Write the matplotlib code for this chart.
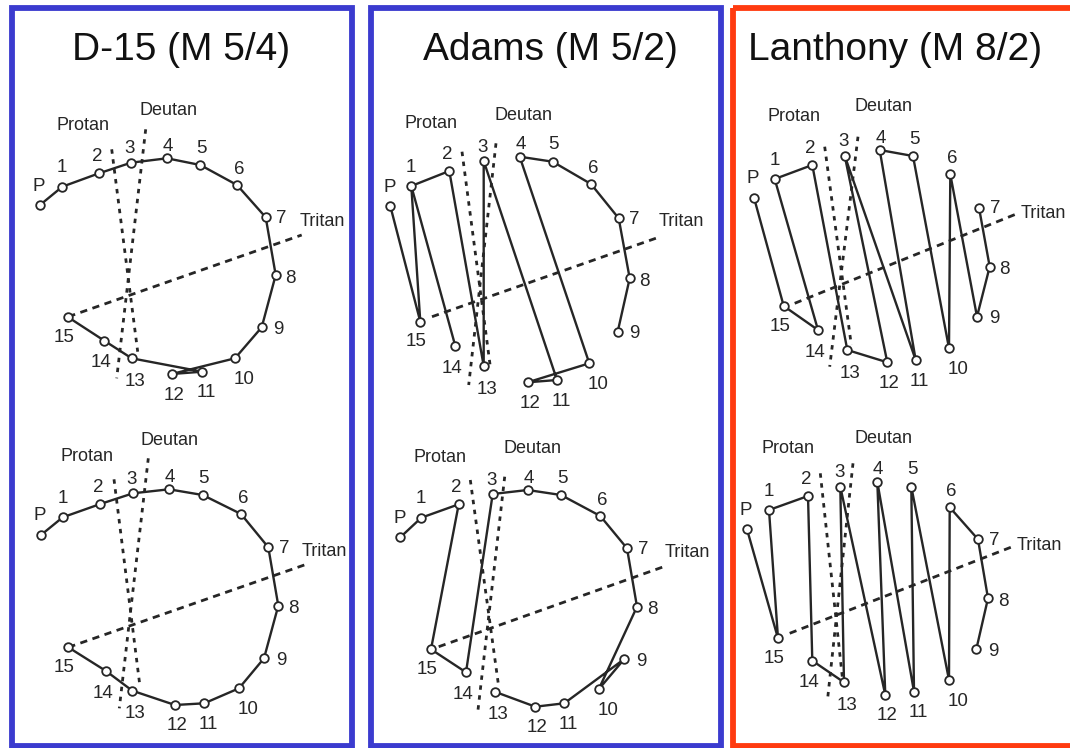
import matplotlib
matplotlib.use('Agg')
import matplotlib.pyplot as plt
from matplotlib.patches import Rectangle

plt.rcParams['font.family'] = ['Liberation Sans', 'DejaVu Sans']

# cap names, P = pilot cap
caps = ['P'] + [str(i) for i in range(1, 16)]

# where each cap number sits relative to its circle (px)
num_dx = [-1, 0, -2, -1, 1, 1, 2, 16, 15, 17, 9, 4, 2, 3, -3, -4]
num_dy = [-19, -19, -17, -14, -12, -17, -16, 1, 3, 2, 21, 21, 21, 23, 22, 20]

titles = ['D-15 (M 5/4)', 'Adams (M 5/2)', 'Lanthony (M 8/2)']
title_x = [181, 550, 895]
frame_colors = ['#3b3bcf', '#3b3bcf', '#ff3b10']
frame_left = [12, 370.5, 733]
frame_right = [352, 721.3, 1085]

# ---- D-15, upper and lower plots
d15_top_x = [40, 62.3, 99, 131, 167, 200.3, 237, 265.7, 275.7, 261.7, 235, 202.3, 171.7, 131.7, 104.3, 68.3]
d15_top_y = [205, 186.7, 173.3, 162.7, 158.3, 165, 185, 217.3, 275, 327.3, 358.3, 371.7, 374, 358.3, 340.7, 317.3]
d15_top_order = [['P', '1', '2', '3', '4', '5', '6', '7', '8', '9', '10', '12', '11', '13', '14', '15']]
d15_top_axes = [(111.7, 149.3, 137.7, 351.7), (145.7, 129.3, 116.7, 378.3), (68.3, 316.7, 301.7, 235)]
d15_top_names = [(83.3, 125), (168.3, 110), (300, 221.7)]

d15_bot_x = [41, 62.7, 100.3, 133, 169, 202.7, 241, 268.3, 278.3, 264, 239, 204.3, 175, 132.3, 106, 68.3]
d15_bot_y = [535, 517.3, 504, 493.3, 489.3, 495, 514, 547.3, 605.7, 658.3, 688.3, 703.3, 705, 690.7, 671, 647.3]
d15_bot_order = [caps[:]]
d15_bot_axes = [(114, 479.3, 140, 686.7), (148.3, 458.3, 119.3, 708.3), (68.3, 647.3, 304.3, 565)]
d15_bot_names = [(86.7, 456), (170, 440), (301.7, 551.7)]

# ---- Adams
adams_top_x = [390.3, 411.3, 449.3, 483.7, 519.7, 552.7, 591, 618.7, 629.7, 617.7, 589.3, 557, 527.7, 483.7, 455.3, 420.3]
adams_top_y = [206, 186, 171, 161, 156.7, 161.7, 184, 218.3, 278.3, 331.7, 363.3, 380, 382.3, 366, 346, 321.7]
adams_top_order = [['P', '15', '1', '2', '13', '3', '11', '12', '10', '4', '5', '6', '7', '8', '9'], ['1', '14']]
adams_top_axes = [(462, 151.7, 490.3, 366.7), (496, 143.3, 468.7, 385), (432, 316.7, 660.3, 236.7)]
adams_top_names = [(431.3, 123.3), (523.7, 115), (658.7, 221.7)]

adams_bot_x = [400.3, 421.3, 458.7, 492.7, 527.7, 561, 600.3, 627, 637, 624.3, 598.7, 564.3, 535.3, 494.7, 466, 431]
adams_bot_y = [537.3, 517.7, 504.3, 494, 490, 495, 516, 548.3, 606.7, 659, 689.3, 703.3, 706.7, 691.7, 672.3, 649.3]
adams_bot_order = [['P', '1', '2', '15', '14', '3', '4', '5', '6', '7', '8', '10', '9', '11', '12', '13']]
adams_bot_axes = [(470.3, 480, 498.7, 686.7), (504.7, 476.7, 478, 710), (438.7, 646.7, 663.7, 566.7)]
adams_bot_names = [(440.3, 457.7), (532.7, 448.3), (664.7, 552.7)]

# ---- Lanthony desaturated
lan_top_x = [754, 774.7, 812.3, 844.7, 879.7, 913, 950.3, 979, 989.7, 977, 949, 915.7, 887.3, 847.3, 818, 783.7]
lan_top_y = [197.7, 179, 165, 155.7, 150, 156, 174.3, 207.7, 266.7, 316.7, 348.3, 360, 362.3, 350, 330, 306]
lan_top_order = [['P', '15', '14', '1', '2', '13', '12', '3', '11', '4', '5', '10', '6', '9', '8', '7']]
lan_top_axes = [(824.7, 146.7, 851.3, 345), (858, 136.7, 829.7, 366.7), (794.7, 303.3, 1018, 213.3)]
lan_top_names = [(794, 116.7), (883.7, 106.7), (1020.3, 213.3)]

lan_bot_x = [747, 769, 808, 840.3, 877.3, 911.3, 949.7, 978, 988, 976.3, 949, 914, 885.3, 844, 812.3, 778]
lan_bot_y = [529.3, 510, 496, 486.7, 481.7, 486.7, 507.3, 539.3, 598.3, 649.3, 680, 691.7, 695, 682.3, 660.7, 638.3]
lan_bot_order = [['P', '15', '1', '2', '14', '13', '3', '12', '4', '11', '5', '10', '6', '7', '8', '9']]
lan_bot_axes = [(820.3, 473.3, 843, 683.3), (853, 463.3, 827.3, 701.7), (789.7, 633.3, 1012.3, 546.7)]
lan_bot_names = [(788, 448.3), (883, 438.3), (1016.3, 546)]

plots = [
    (d15_top_x, d15_top_y, d15_top_order, d15_top_axes, d15_top_names),
    (d15_bot_x, d15_bot_y, d15_bot_order, d15_bot_axes, d15_bot_names),
    (adams_top_x, adams_top_y, adams_top_order, adams_top_axes, adams_top_names),
    (adams_bot_x, adams_bot_y, adams_bot_order, adams_bot_axes, adams_bot_names),
    (lan_top_x, lan_top_y, lan_top_order, lan_top_axes, lan_top_names),
    (lan_bot_x, lan_bot_y, lan_bot_order, lan_bot_axes, lan_bot_names),
]
axis_names = ['Protan', 'Deutan', 'Tritan']

ink = '#262626'
fig = plt.figure(figsize=(10.7, 7.48), dpi=100)
ax = fig.add_axes([0, 0, 1, 1])
ax.set_xlim(0, 1070)
ax.set_ylim(748, 0)
ax.axis('off')

for i in range(3):
    ax.add_patch(Rectangle((frame_left[i], 8), frame_right[i] - frame_left[i], 738,
                           fill=False, edgecolor=frame_colors[i], lw=4.2, clip_on=False))
    ax.text(title_x[i], 50, titles[i], fontsize=28, ha='center', va='center', color='#111111')

for xs, ys, order, axes_lines, name_pos in plots:
    # confusion axes
    for k, (x0, y0, x1, y1) in enumerate(axes_lines):
        dash = (1.6, 2.0) if k < 2 else (2.6, 2.0)
        ax.plot([x0, x1], [y0, y1], color=ink, lw=2.0, dashes=dash, zorder=2)
    for k, (tx, ty) in enumerate(name_pos):
        ax.text(tx, ty, axis_names[k], fontsize=13, color=ink,
                ha='left' if k == 2 else 'center', va='center')
    # arrangement order
    for seq in order:
        idx = [caps.index(c) for c in seq]
        ax.plot([xs[j] for j in idx], [ys[j] for j in idx], color=ink, lw=1.7, zorder=3)
    ax.plot(xs, ys, ls='none', marker='o', ms=6.2, mfc='white', mec=ink, mew=1.3, zorder=4)
    for j, c in enumerate(caps):
        ax.text(xs[j] + num_dx[j], ys[j] + num_dy[j], c, fontsize=13.5, color=ink,
                ha='center', va='center')

fig.savefig('out.png', dpi=100)
